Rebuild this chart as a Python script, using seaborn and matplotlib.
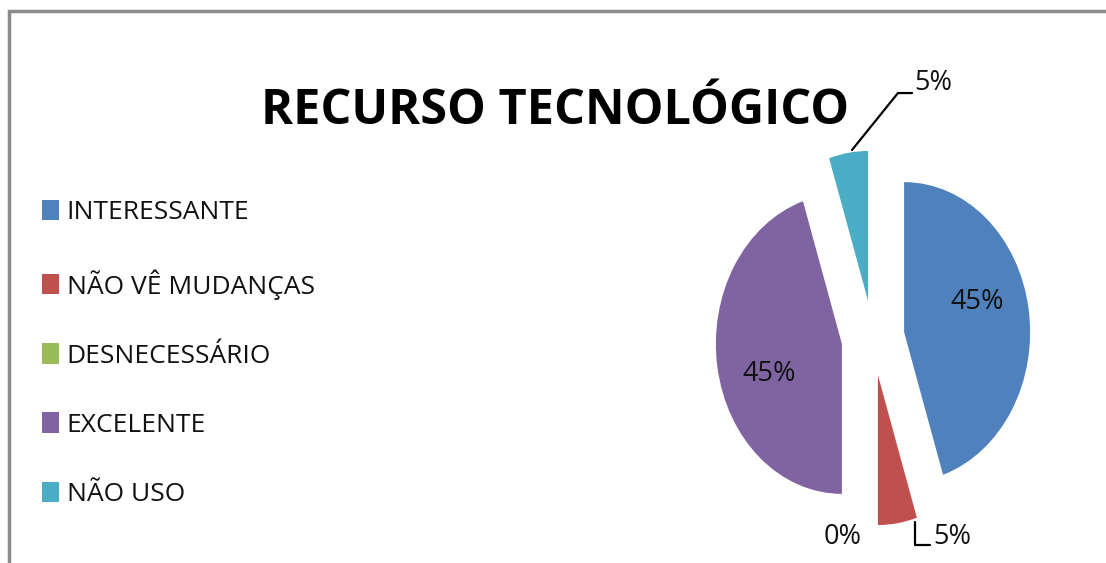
import numpy as np
import matplotlib
matplotlib.use("Agg")
import matplotlib.pyplot as plt
import seaborn as sns
from matplotlib import font_manager
from matplotlib.patches import Rectangle

categories = ["INTERESSANTE", "NÃO VÊ MUDANÇAS", "DESNECESSÁRIO", "EXCELENTE", "NÃO USO"]
values = [45, 5, 0, 45, 5]
pct_labels = ["45%", "5%", "0%", "45%", "5%"]
colors = ["#4F81BD", "#C0504D", "#9BBB59", "#8064A2", "#4BACC6"]
title = "RECURSO TECNOLÓGICO"

sns.set_theme(style="white")
installed = {f.name for f in font_manager.fontManager.ttflist}
narrow = "Liberation Sans Narrow" if "Liberation Sans Narrow" in installed else "Open Sans"
plt.rcParams["font.family"] = [narrow, "DejaVu Sans"]

W, H = 1106, 563
fig = plt.figure(figsize=(W / 100, H / 100), dpi=100)
fig.patch.set_facecolor("white")

# pie axes: center (873,338) px, rx=126 px, ry=150 px, limits +-1.5
cx, cy, rx, ry = 873, 338, 126, 150
lim = 1.5
ax = fig.add_axes([(cx - lim * rx) / W, (H - cy - lim * ry) / H, 2 * lim * rx / W, 2 * lim * ry / H])
wedges, _ = ax.pie(values, colors=colors, startangle=90, counterclock=False,
                   explode=[0.25] * len(values), radius=1.0,
                   wedgeprops=dict(linewidth=0))
ax.set_aspect("auto")
ax.set_xlim(-lim, lim)
ax.set_ylim(-lim, lim)
ax.axis("off")

lab_fs = 19.5
leg_fs = 19
txt_col = "#111111"
# large slices: labels inside
for w, lab, v in zip(wedges, pct_labels, values):
    if v >= 20:
        mid = np.deg2rad((w.theta1 + w.theta2) / 2 + 10)
        x0, y0 = w.center
        ax.text(x0 + 0.61 * np.cos(mid), y0 + 0.61 * np.sin(mid), lab,
                ha="center", va="center", fontsize=lab_fs, color=txt_col)

# small slices: outside labels with leader lines
ax.text(-0.24, -1.33, pct_labels[2], ha="center", va="center", fontsize=lab_fs, color=txt_col)
ax.text(0.48, -1.33, pct_labels[1], ha="left", va="center", fontsize=lab_fs, color=txt_col)
ax.plot([0.333, 0.333, 0.452], [-1.227, -1.38, -1.38], color="black", lw=1.6, clip_on=False)
ax.text(0.33, 1.7, pct_labels[4], ha="left", va="center", fontsize=lab_fs, color=txt_col)
ax.plot([-0.167, 0.198, 0.31], [1.253, 1.633, 1.633], color="black", lw=1.6, clip_on=False)

# title
fig.text(555 / W, 1 - 112 / H, title, ha="center", va="center", fontsize=35,
         fontweight="bold", color="black")

# legend
leg = fig.legend(wedges, categories, loc="upper left",
                 bbox_to_anchor=(42 / W, 1 - 200 / H), frameon=False,
                 fontsize=leg_fs, handlelength=0.64, handleheight=0.8,
                 handletextpad=0.3, labelspacing=1.66, borderpad=0, borderaxespad=0,
                 labelcolor=txt_col)

# border
fig.patches.append(Rectangle((8.5 / W, -0.1), 1.2, (H - 11.5) / H + 0.1, fill=False,
                             edgecolor="#8c8c8c", lw=2.5, transform=fig.transFigure, figure=fig))

fig.savefig("out.png", dpi=100, facecolor="white")
